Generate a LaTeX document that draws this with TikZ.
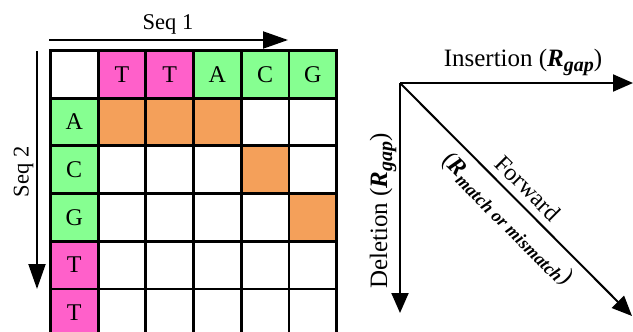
\documentclass[tikz,border=0pt]{standalone}
\usepackage{fontspec}
\setmainfont{Liberation Serif}
\usetikzlibrary{arrows.meta}
\definecolor{pinkc}{HTML}{FF60CA}
\definecolor{greenc}{HTML}{86FF91}
\definecolor{orangec}{HTML}{F4A05A}
\tikzset{
  cell/.style={draw=black,line width=2.8pt,minimum size=47.7pt,inner sep=0pt,font=\fontsize{24}{28}\selectfont,anchor=north west},
  lbl/.style={font=\fontsize{24}{28}\selectfont,inner sep=0pt},
  biglbl/.style={font=\fontsize{25}{29}\selectfont,inner sep=0pt,anchor=base},
  seqlbl/.style={font=\fontsize{22.5}{26}\selectfont,inner sep=0pt,anchor=base},
  bigarrow/.style={line width=2pt,-{Triangle[length=25pt,width=17pt]}},
  dirarrow/.style={line width=2pt,-{Triangle[length=20pt,width=17pt]}},
}
\newcommand{\bi}[1]{\textbf{\textit{#1}}}
\newcommand{\subx}[1]{\raisebox{-5pt}{\fontsize{18}{20}\selectfont\bi{#1}}}
\newcommand{\subg}[1]{\raisebox{-5pt}{\fontsize{20}{22}\selectfont\bi{#1}}}
\begin{document}
\begin{tikzpicture}[x=1pt,y=-1pt]
\useasboundingbox (0,0) rectangle (633,332);
\clip (0,0) rectangle (633,332);
% grid
\foreach \r in {1,...,6}{
  \foreach \c in {1,...,6}{
    \node[cell,fill=white] (c\r\c) at ({49+(\c-1)*47.7},{49+(\r-1)*47.7}) {};
  }
}
% header row
\node[cell,fill=pinkc] at (c12.north west) {T};
\node[cell,fill=pinkc] at (c13.north west) {T};
\node[cell,fill=greenc] at (c14.north west) {A};
\node[cell,fill=greenc] at (c15.north west) {C};
\node[cell,fill=greenc] at (c16.north west) {G};
% header column
\node[cell,fill=greenc] at (c21.north west) {A};
\node[cell,fill=greenc] at (c31.north west) {C};
\node[cell,fill=greenc] at (c41.north west) {G};
\node[cell,fill=pinkc] at (c51.north west) {T};
\node[cell,fill=pinkc] at (c61.north west) {T};
% path cells
\node[cell,fill=orangec] at (c22.north west) {};
\node[cell,fill=orangec] at (c23.north west) {};
\node[cell,fill=orangec] at (c24.north west) {};
\node[cell,fill=orangec] at (c35.north west) {};
\node[cell,fill=orangec] at (c46.north west) {};
% sequence arrows
\coordinate (s1a) at (49,40);
\coordinate (s1b) at (288,40);
\draw[bigarrow] (s1a) -- (s1b);
\node[seqlbl] (seq1) at (168,30) {Seq 1};
\coordinate (s2a) at (37,51);
\coordinate (s2b) at (37,289);
\draw[bigarrow] (s2a) -- (s2b);
\node[seqlbl,rotate=90] (seq2) at (28.5,172) {Seq 2};
% direction arrows
\coordinate (O) at (400,83);
\coordinate (ins) at (633,83);
\coordinate (del) at (400,313);
\coordinate (fwd) at (632,316);
\draw[dirarrow] (O) -- (ins);
\draw[dirarrow] (O) -- (del);
\draw[dirarrow] (O) -- (fwd);
\node[biglbl] (insl) at (523,66.5) {Insertion (\bi{R}\subg{gap})};
\node[biglbl,rotate=90] (dell) at (387,211) {Deletion (\bi{R}\subg{gap})};
\node[lbl,rotate=-45] (fwdl) at (528,188) {Forward};
\node[lbl,rotate=-45] (fwdr) at (507,219) {(\bi{R}\subx{match or mismatch})};
\end{tikzpicture}
\end{document}
